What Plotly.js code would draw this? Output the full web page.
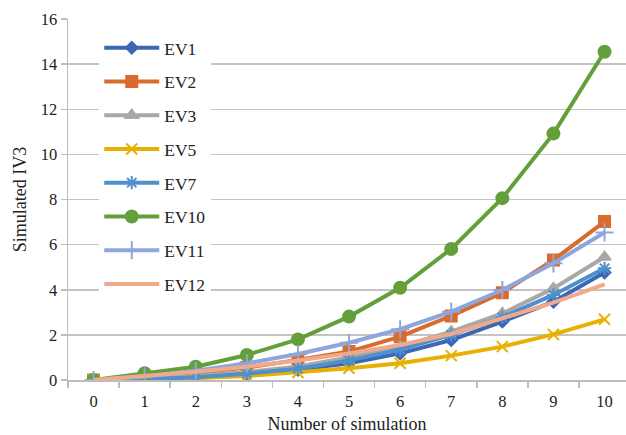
<!DOCTYPE html>
<html><head><meta charset="utf-8">
<script src="https://cdn.plot.ly/plotly-3.0.1.min.js"></script>
<style>body{margin:0;background:#fff}#c{width:626px;height:435px}</style>
</head><body><div id="c"></div>
<script>
const categories = ["0","1","2","3","4","5","6","7","8","9","10"];
const EV1  = [0, 0.03, 0.10, 0.25, 0.45, 0.74, 1.18, 1.77, 2.59, 3.47, 4.76];
const EV2  = [0, 0.10, 0.30, 0.55, 0.89, 1.26, 1.92, 2.84, 3.87, 5.32, 7.02];
const EV3  = [0, 0.05, 0.18, 0.35, 0.60, 1.00, 1.48, 2.14, 2.95, 4.06, 5.45];
const EV5  = [0, 0.02, 0.08, 0.18, 0.33, 0.52, 0.74, 1.08, 1.48, 2.02, 2.69];
const EV7  = [0, 0.03, 0.12, 0.28, 0.50, 0.87, 1.35, 2.00, 2.78, 3.77, 4.95];
const EV10 = [0, 0.30, 0.59, 1.11, 1.80, 2.81, 4.09, 5.81, 8.06, 10.92, 14.55];
const EV11 = [0, 0.15, 0.41, 0.74, 1.15, 1.65, 2.25, 3.03, 3.99, 5.17, 6.54];
const EV12 = [0, 0.18, 0.37, 0.59, 0.86, 1.18, 1.55, 2.04, 2.73, 3.43, 4.24];
const yTicks = [0,2,4,6,8,10,12,14,16];

const series = [
  {name:"EV1", y:EV1, color:"#3d67b3", symbol:"diamond", size:9},
  {name:"EV2", y:EV2, color:"#d86c2d", symbol:"square", size:11},
  {name:"EV3", y:EV3, color:"#a8a8a8", symbol:"triangle-up", size:11},
  {name:"EV5", y:EV5, color:"#e8b000", symbol:"x-thin-open", size:11},
  {name:"EV7", y:EV7, color:"#4e8fcd", symbol:"asterisk-open", size:11},
  {name:"EV10", y:EV10, color:"#63a03c", symbol:"circle", size:12},
  {name:"EV11", y:EV11, color:"#8ea6dc", symbol:"cross-thin-open", size:13},
  {name:"EV12", y:EV12, color:"#f2a98b", symbol:null, size:0}
];
const traces = series.map(s => {
  const t = {
    type:"scatter", x:categories, y:s.y, name:s.name, legendgroup:s.name,
    mode: s.symbol ? "lines+markers" : "lines",
    line:{color:s.color, width:4}
  };
  if (s.symbol) t.marker = {symbol:s.symbol, size:s.size, color:s.color, line:{color:s.color, width:2}};
  return t;
});
const FAM = "Liberation Serif, Times New Roman, serif";
const tickFont = {family:FAM, size:16.5, color:"#222"};
const titleFont = {family:FAM, size:18, color:"#222"};
const layout = {
  width:626, height:435,
  margin:{l:68, r:0, t:19, b:55},
  paper_bgcolor:"#fff", plot_bgcolor:"#fff",
  font:tickFont,
  showlegend:true,
  legend:{x:0.056, xanchor:"left", y:0.97, yanchor:"top", bgcolor:"#fff",
          font:{family:FAM, size:17.5, color:"#222"}, itemwidth:55,
          traceorder:"grouped", tracegroupgap:8},
  xaxis:{type:"category", range:[-0.5,10.42], showgrid:false,
         showline:true, linecolor:"#bdbdbd", linewidth:1.5,
         ticks:"outside", tickson:"boundaries", ticklen:6, tickcolor:"#bdbdbd", tickwidth:1.5,
         tickfont:tickFont, ticklabelstandoff:6,
         title:{text:"Number of simulation", font:titleFont, standoff:7}},
  yaxis:{range:[0,16], tickvals:yTicks, showgrid:true, gridcolor:"#c4c4c4", gridwidth:1.5,
         showline:true, linecolor:"#bdbdbd", linewidth:1.5, zeroline:false,
         ticks:"outside", ticklen:6, tickcolor:"#bdbdbd", tickwidth:1.5,
         tickfont:tickFont,
         title:{text:"Simulated IV3", font:titleFont, standoff:9}}
};
Plotly.newPlot("c", traces, layout, {displayModeBar:false, staticPlot:true});
</script></body></html>
